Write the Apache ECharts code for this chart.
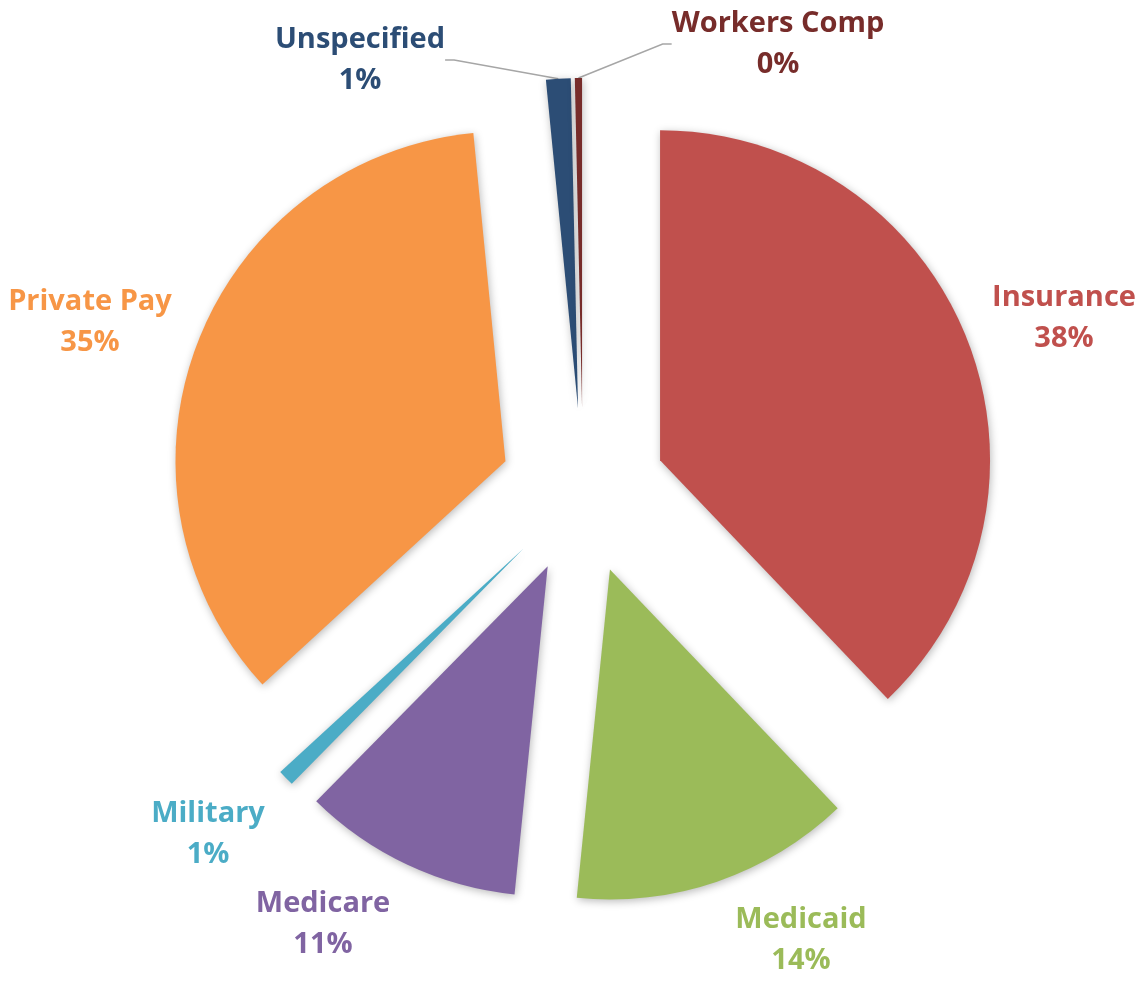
<!DOCTYPE html>
<html>
<head>
<meta charset="utf-8">
<script src="https://cdn.jsdelivr.net/npm/echarts@6/dist/echarts.min.js"></script>
<style>
  html, body { margin: 0; padding: 0; background: #fff; }
  #chart_example { width: 1144px; height: 981px; }
</style>
</head>
<body>
<div id="chart_example"></div>
<script>
// payer mix (share of the whole pie)
var categories = ['Insurance', 'Medicaid', 'Medicare', 'Military', 'Private Pay', 'Unspecified', 'Workers Comp'];
var shares = [37.8, 13.7, 10.75, 0.8, 35.2, 1.2, 0.35];

// styles kept apart from the data
var colors = ['#C0504D', '#9BBB59', '#8064A2', '#4BACC6', '#F79646', '#2C4D75', '#772C2A'];
var showLine = [false, false, false, false, false, true, true];
// where excel put each label (block centre)
var labelPos = [[1064, 318], [801, 940], [323, 924], [208, 834], [90, 322], [360, 60], [778, 44]];

var pieCenter = [583, 491];
var pieRadius = 330;
var explode = 83;

var total = shares.reduce(function (a, b) { return a + b; }, 0);

// one pie per slice so every slice can be pulled out along its own mid angle
var seriesList = categories.map(function (name, k) {
  var before = 0;
  for (var j = 0; j < k; j++) before += shares[j];
  var mid = (90 - 360 * (before + shares[k] / 2) / total) * Math.PI / 180;
  return {
    type: 'pie',
    name: name,
    center: [pieCenter[0] + explode * Math.cos(mid), pieCenter[1] - explode * Math.sin(mid)],
    radius: pieRadius,
    startAngle: 90,
    clockwise: true,
    avoidLabelOverlap: false,
    emphasis: { disabled: true },
    label: {
      position: 'outside',
      fontFamily: 'Open Sans',
      fontWeight: 'bold',
      fontSize: 29,
      lineHeight: 41,
      formatter: function (p) {
        return '{n|' + p.name + '}\n{n|' + Math.round(p.percent) + '%}';
      },
      rich: {
        n: { align: 'center', fontFamily: 'Open Sans', fontWeight: 'bold', fontSize: 29, lineHeight: 41 }
      }
    },
    labelLine: {
      length: 20,
      length2: 9,
      lineStyle: { color: '#A6A6A6', width: 1.5 }
    },
    labelLayout: function (params) {
      var pos = labelPos[params.dataIndex];
      return { x: pos[0], y: pos[1], align: 'center', verticalAlign: 'middle' };
    },
    data: categories.map(function (n, i) {
      var own = i === k;
      return {
        name: n,
        value: shares[i],
        itemStyle: own ? {
          color: colors[i],
          shadowBlur: 8,
          shadowOffsetX: 1,
          shadowOffsetY: 2,
          shadowColor: 'rgba(0,0,0,0.28)'
        } : { color: 'rgba(0,0,0,0)' },
        label: { show: own, color: colors[i] },
        labelLine: { show: own && showLine[i] }
      };
    })
  };
});

var myChart = echarts.init(document.getElementById('chart_example'));
myChart.setOption({
  backgroundColor: '#fff',
  animation: false,
  series: seriesList
});
window.addEventListener('resize', function () { myChart.resize(); });
</script>
</body>
</html>
